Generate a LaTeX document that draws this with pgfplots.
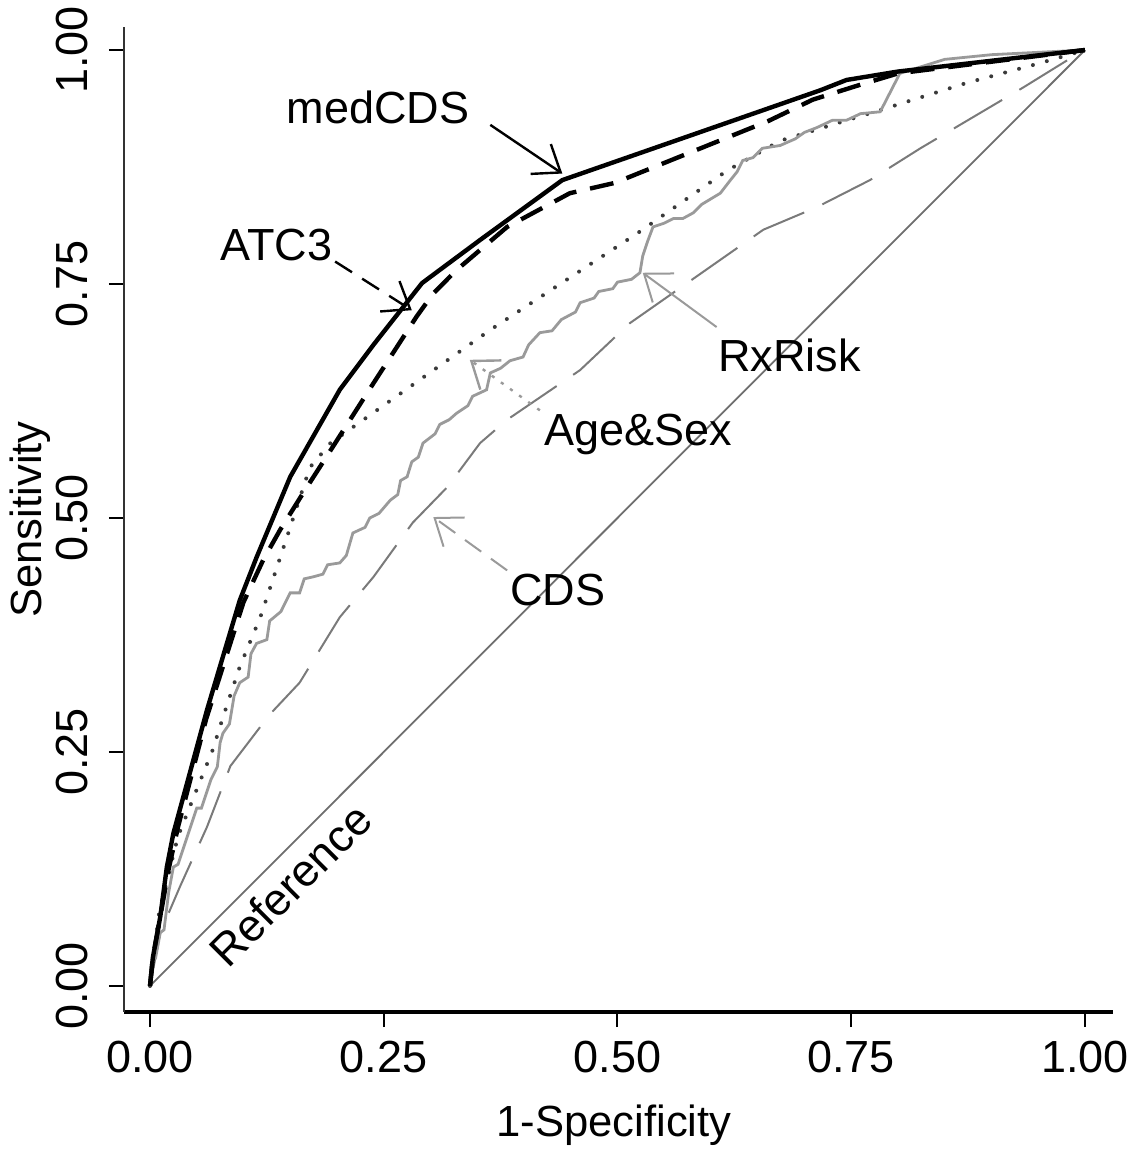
\documentclass[border=0pt]{standalone}
\usepackage{fontspec}
\setmainfont{Liberation Sans}
\usepackage{pgfplots}
\pgfplotsset{compat=1.18}
\usetikzlibrary{arrows.meta}
\definecolor{rxgray}{HTML}{9A9A9A}
\definecolor{cdsgray}{HTML}{7A7A7A}
\definecolor{refgray}{HTML}{6E6E6E}
\definecolor{agegray}{HTML}{3A3A3A}
\begin{document}
\begin{tikzpicture}[font=\fontsize{11.25}{13}\selectfont]
\begin{axis}[
  scale only axis,
  width=247.25pt, height=246.25pt,
  xmin=-0.0278, xmax=1.030, ymin=-0.0278, ymax=1.0246,
  axis x line*=bottom, axis y line*=left,
  x axis line style={-, line width=0.8pt},
  y axis line style={-, line width=0.4pt, black!80},
  xtick={0,0.25,0.5,0.75,1}, ytick={0,0.25,0.5,0.75,1},
  xticklabels={0.00,0.25,0.50,0.75,1.00},
  yticklabels={0.00,0.25,0.50,0.75,1.00},
  tick align=outside, major tick length=3.8pt,
  tick style={black, line width=0.5pt},
  xticklabel style={anchor=north, inner sep=0pt},
  yticklabel style={rotate=90, anchor=south, inner sep=0pt},
  xticklabel shift=3.2pt, yticklabel shift=5pt,
  xlabel={1-Specificity}, ylabel={Sensitivity},
  xlabel style={at={(axis description cs:0.4955,-0.1147)}, anchor=center, font=\fontsize{10.9}{13}\selectfont},
  ylabel style={at={(axis description cs:-0.095,0.5)}, anchor=center, rotate=0, font=\fontsize{10.9}{13}\selectfont},
  clip=false,
]
\coordinate (O) at (rel axis cs:0,0);
% Reference
\addplot[refgray, line width=0.45pt] coordinates {(0,0) (1,1)};
% CDS
\addplot[cdsgray, line width=0.5pt, dash pattern=on 14pt off 5pt] coordinates {
(0,0) (0.011,0.057) (0.032,0.106) (0.061,0.17) (0.086,0.235) (0.128,0.29) (0.16,0.324)
(0.203,0.394) (0.239,0.437) (0.281,0.495) (0.318,0.533) (0.353,0.58) (0.382,0.605)
(0.46,0.658) (0.513,0.708) (0.656,0.808) (0.713,0.832) (0.77,0.861) (0.824,0.895)
(0.934,0.96) (0.981,0.989) (1,1)};
% Age&Sex
\addplot[agegray, line width=1.0pt, line cap=round, dash pattern=on 0pt off 3.6pt] coordinates {
(0,0) (0.01,0.08) (0.03,0.16) (0.05,0.21) (0.067,0.252) (0.078,0.287) (0.096,0.341)
(0.118,0.394) (0.142,0.466) (0.171,0.554) (0.193,0.58) (0.364,0.701) (0.521,0.804)
(0.617,0.871) (0.674,0.903) (0.788,0.938) (0.874,0.965) (0.952,0.986) (1,1)};
% RxRisk
\addplot[rxgray, line width=0.7pt] coordinates {
(0,0) (0.004,0.03) (0.006,0.03) (0.011,0.057) (0.015,0.06) (0.02,0.1) (0.025,0.127)
(0.03,0.13) (0.04,0.16) (0.05,0.19) (0.055,0.19) (0.065,0.22) (0.072,0.234) (0.075,0.26)
(0.078,0.27) (0.085,0.28) (0.09,0.31) (0.096,0.324) (0.105,0.33) (0.108,0.355)
(0.114,0.366) (0.125,0.37) (0.128,0.39) (0.14,0.40) (0.15,0.42) (0.16,0.42) (0.165,0.435)
(0.174,0.437) (0.185,0.44) (0.19,0.45) (0.203,0.452) (0.21,0.46) (0.217,0.484) (0.23,0.49)
(0.235,0.50) (0.245,0.505) (0.257,0.519) (0.265,0.525) (0.268,0.54) (0.275,0.544)
(0.28,0.56) (0.287,0.565) (0.292,0.58) (0.305,0.59) (0.31,0.60) (0.32,0.605) (0.328,0.612)
(0.34,0.62) (0.345,0.63) (0.36,0.637) (0.364,0.655) (0.375,0.66) (0.385,0.668)
(0.399,0.672) (0.405,0.685) (0.417,0.698) (0.43,0.70) (0.44,0.712) (0.455,0.72)
(0.46,0.73) (0.475,0.735) (0.48,0.742) (0.495,0.745) (0.50,0.752) (0.515,0.755)
(0.524,0.762) (0.527,0.78) (0.532,0.795) (0.538,0.811) (0.55,0.815) (0.56,0.82)
(0.57,0.82) (0.581,0.826) (0.59,0.835) (0.61,0.847) (0.62,0.86) (0.628,0.87)
(0.634,0.882) (0.645,0.885) (0.655,0.895) (0.674,0.898) (0.69,0.905) (0.70,0.912)
(0.713,0.917) (0.73,0.925) (0.745,0.925) (0.76,0.932) (0.781,0.934) (0.802,0.975)
(0.85,0.99) (0.9,0.995) (1,1)};
% ATC3
\addplot[black, line width=1.1pt, dash pattern=on 6pt off 3.5pt] coordinates {
(0,0) (0.003,0.03) (0.011,0.074) (0.02,0.125) (0.03,0.17) (0.06,0.285) (0.1,0.41)
(0.121,0.455) (0.139,0.487) (0.164,0.527) (0.2,0.583) (0.239,0.644) (0.285,0.715)
(0.303,0.74) (0.328,0.765) (0.382,0.811) (0.449,0.847) (0.497,0.858) (0.661,0.924)
(0.709,0.947) (0.76,0.963) (0.80,0.975) (1,1)};
% medCDS
\addplot[black, line width=1.1pt] coordinates {
(0,0) (0.003,0.03) (0.011,0.074) (0.018,0.127) (0.025,0.163) (0.061,0.295) (0.096,0.412)
(0.114,0.458) (0.15,0.544) (0.203,0.637) (0.239,0.685) (0.291,0.751) (0.353,0.797)
(0.441,0.861) (0.717,0.957) (0.745,0.968) (0.8,0.977) (1,1)};
% labels and arrows
\node at (axis cs:0.244,0.939) {medCDS};
\draw[black, line width=0.6pt, -{Straight Barb[length=6pt,width=9pt]}] (axis cs:0.364,0.920) -- (axis cs:0.441,0.868);
\node at (axis cs:0.135,0.792) {ATC3};
\draw[black, line width=0.6pt, dash pattern=on 5pt off 3pt, -{Straight Barb[length=6pt,width=9pt]}] (axis cs:0.198,0.774) -- (axis cs:0.280,0.722);
\node at (axis cs:0.684,0.674) {RxRisk};
\draw[rxgray, line width=0.5pt, -{Straight Barb[length=6pt,width=9pt]}] (axis cs:0.606,0.704) -- (axis cs:0.527,0.762);
\node at (axis cs:0.522,0.589) {Age\&Sex};
\draw[rxgray, line width=0.6pt, dash pattern=on 0.8pt off 2pt, -{Straight Barb[length=6pt,width=9pt]}] (axis cs:0.417,0.615) -- (axis cs:0.342,0.669);
\node at (axis cs:0.436,0.423) {CDS};
\draw[rxgray, line width=0.5pt, dash pattern=on 5pt off 3pt, -{Straight Barb[length=6pt,width=9pt]}] (axis cs:0.382,0.444) -- (axis cs:0.303,0.501);
\node[rotate=45] at (axis cs:0.150,0.108) {Reference};
\end{axis}
\pgfresetboundingbox
\path (O) ++(-31pt,-35.25pt) rectangle ++(284.25pt,288.25pt);
\end{tikzpicture}
\end{document}
